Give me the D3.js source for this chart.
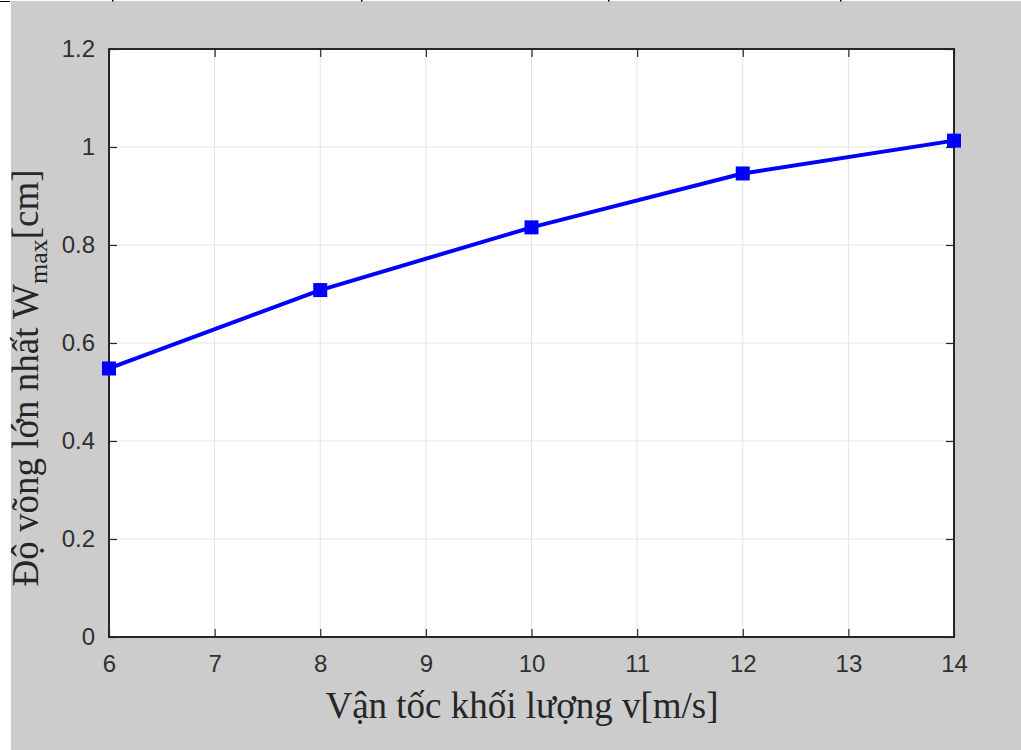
<!DOCTYPE html>
<html><head><meta charset="utf-8">
<script src="https://cdn.jsdelivr.net/npm/d3@7"></script>
<style>html,body{margin:0;padding:0;background:#cccccc;}svg{display:block;}</style>
</head><body>
<svg id="chart" width="1021" height="750"></svg>
<script>
const velocities = [6, 8, 10, 12, 14];
const deflections = [0.548, 0.708, 0.836, 0.946, 1.013];
const xTicks = [6, 7, 8, 9, 10, 11, 12, 13, 14];
const yTicks = [0, 0.2, 0.4, 0.6, 0.8, 1, 1.2];
const yTickLabels = ["0", "0.2", "0.4", "0.6", "0.8", "1", "1.2"];
const xLabel = "Vận tốc khối lượng v[m/s]";
const yLabelMain = "Độ võng lớn nhất W";
const yLabelSub = "max";
const yLabelEnd = "[cm]";

const svg = d3.select("#chart");
const W = 1021, H = 750;
const m = {left: 109, right: 954, top: 49, bottom: 637};

svg.append("rect").attr("width", W).attr("height", H).attr("fill", "#cccccc");
// white edge artefacts of the screenshot
svg.append("rect").attr("x", 0).attr("y", 0).attr("width", 11).attr("height", H).attr("fill", "#ffffff");
svg.append("rect").attr("x", 0).attr("y", 0).attr("width", W).attr("height", 1).attr("fill", "#ffffff");
svg.append("rect").attr("x", 0).attr("y", 1).attr("width", 10).attr("height", 1).attr("fill", "#000");
[112, 361, 608, 840].forEach(px => svg.append("rect").attr("x", px).attr("y", 0).attr("width", 1.5).attr("height", 1.5).attr("fill", "#000"));

const x = d3.scaleLinear().domain([6, 14]).range([m.left, m.right]);
const y = d3.scaleLinear().domain([0, 1.2]).range([m.bottom, m.top]);

svg.append("rect").attr("x", m.left).attr("y", m.top)
  .attr("width", m.right - m.left).attr("height", m.bottom - m.top).attr("fill", "#ffffff");

// grid
const grid = svg.append("g");
grid.selectAll("line.gx").data(xTicks.slice(1, -1)).join("line")
  .attr("x1", d => x(d)).attr("x2", d => x(d)).attr("y1", m.top).attr("y2", m.bottom)
  .attr("stroke", "#e3e3e3").attr("stroke-width", 1);
grid.selectAll("line.gy").data(yTicks.slice(1, -1)).join("line")
  .attr("y1", d => y(d)).attr("y2", d => y(d)).attr("x1", m.left).attr("x2", m.right)
  .attr("stroke", "#e3e3e3").attr("stroke-width", 1);

const tickLen = 8;
const axCol = "#262626";
const tickFont = "'Liberation Sans Narrow', 'Arial Narrow', 'Liberation Sans', Arial, sans-serif";

// bottom axis
const xAxis = d3.axisBottom(x).tickValues(xTicks).tickSize(-tickLen).tickPadding(tickLen + 10).tickFormat(d3.format("d"));
const gx = svg.append("g").attr("transform", `translate(0,${m.bottom})`).call(xAxis);
// top axis (ticks only)
const gxt = svg.append("g").attr("transform", `translate(0,${m.top})`).call(d3.axisTop(x).tickValues(xTicks).tickSize(-tickLen).tickFormat(""));
// left axis
const yAxis = d3.axisLeft(y).tickValues(yTicks).tickSize(-tickLen).tickPadding(tickLen + 6).tickFormat((d, i) => yTickLabels[i]);
const gy = svg.append("g").attr("transform", `translate(${m.left},0)`).call(yAxis);
// right axis (ticks only)
const gyr = svg.append("g").attr("transform", `translate(${m.right},0)`).call(d3.axisRight(y).tickValues(yTicks).tickSize(-tickLen).tickFormat(""));

[gx, gxt, gy, gyr].forEach(g => {
  g.select(".domain").remove();
  g.selectAll(".tick line").attr("stroke", axCol).attr("stroke-width", 1.2);
  g.selectAll("text").attr("fill", "#303030").attr("font-family", tickFont).attr("font-size", 24);
});
gx.selectAll("text").attr("dy", "0.71em");

// box
svg.append("rect").attr("x", m.left).attr("y", m.top)
  .attr("width", m.right - m.left).attr("height", m.bottom - m.top)
  .attr("fill", "none").attr("stroke", axCol).attr("stroke-width", 2);

// line + markers
const pts = velocities.map((v, i) => [v, deflections[i]]);
svg.append("path").datum(pts)
  .attr("d", d3.line().x(d => x(d[0])).y(d => y(d[1])))
  .attr("fill", "none").attr("stroke", "#0000ff").attr("stroke-width", 4).attr("stroke-linejoin", "round");
const ms = 14;
svg.selectAll("rect.mk").data(pts).join("rect").attr("class", "mk")
  .attr("x", d => x(d[0]) - ms / 2).attr("y", d => y(d[1]) - ms / 2)
  .attr("width", ms).attr("height", ms).attr("fill", "#0000ff");

const labelFont = "'Liberation Serif', 'Times New Roman', serif";
svg.append("text").attr("x", 522).attr("y", 718).attr("text-anchor", "middle")
  .attr("font-family", labelFont).attr("font-size", 37).attr("fill", "#262626").text(xLabel);

const yl = svg.append("text").attr("transform", "translate(38,378) rotate(-90)").attr("text-anchor", "middle")
  .attr("font-family", labelFont).attr("font-size", 37).attr("fill", "#262626");
yl.append("tspan").text(yLabelMain);
yl.append("tspan").attr("font-size", 26).attr("dy", 9).text(yLabelSub);
yl.append("tspan").attr("dy", -9).text(yLabelEnd);
</script>
</body></html>
